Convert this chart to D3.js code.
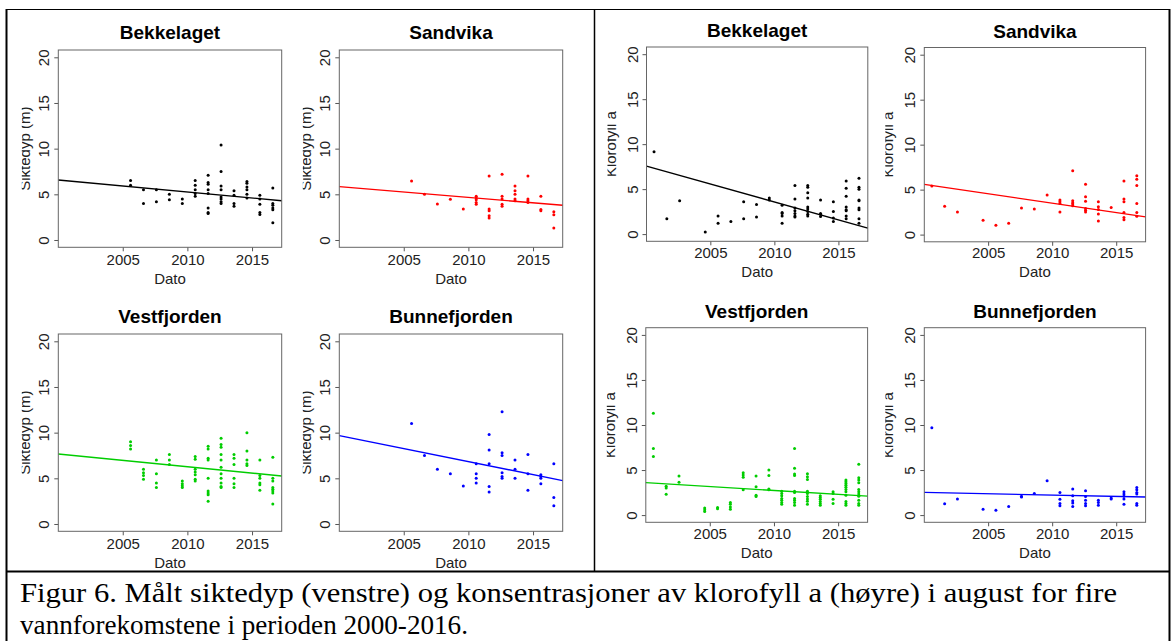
<!DOCTYPE html>
<html>
<head>
<meta charset="utf-8">
<script src="https://cdn.jsdelivr.net/npm/d3@7"></script>
<style>
  body { margin: 0; background: #fff; }
  svg { display: block; font-family: "Liberation Sans", Arial, sans-serif; }
</style>
</head>
<body>
<div id="fig"></div>
<script>
// sites + colours (R default palette 1-4)
var sites = ["Bekkelaget", "Sandvika", "Vestfjorden", "Bunnefjorden"];
var siteColors = ["#000000", "#ff0000", "#00cd00", "#0000ff"];

var yTicks = [0, 5, 10, 15, 20];
var xTickYears = [2005, 2010, 2015];

// siktedyp (m), august samples, one list per year
var siktYears = [2005, 2006, 2007, 2008, 2009, 2010, 2011, 2012, 2013, 2014, 2015, 2016];
var siktBekkelaget = [[6.5,6.0],[5.5,4.0],[5.5,4.2],[5.0,4.4],[4.5,4.0],[6.5,6.0,5.5,5.1,4.8],
  [7.1,6.3,6.1,5.5,5.1,3.5,3.0,2.9],[10.4,7.5,5.9,5.5,4.7,4.5,4.2,4.0],[5.4,4.9,4.0,3.7],
  [6.4,6.2,5.8,5.5,5.0,4.6],[4.9,4.5,3.9,3.0,2.8],[5.7,4.0,3.8,3.5,3.3,1.9]];
var siktSandvika = [[6.45],[5.0],[3.95],[4.45],[3.4],[4.8,4.6,4.4,4.1,3.9],[7.0,3.4,3.2,2.65,2.4],
  [7.2,4.8,4.5,3.9,3.7],[5.9,5.4,5.0,4.5,4.3],[7.0,4.5,4.3,4.1],[4.8,3.35,3.2],[3.1,2.75,1.3]];
var siktVestfjorden = [[9.0,8.6,8.2],[6.0,5.6,5.3,4.9],[7.0,5.5,4.5,4.0],[7.6,7.0,6.5],[4.7,4.4,4.2,4.0],
  [7.4,7.1,6.0,5.7,5.4,4.9,4.7],[8.5,8.2,7.2,7.0,5.0,3.6,3.4,3.2,2.5],
  [9.4,8.7,8.4,7.6,7.0,6.2,5.5,5.0,4.5,4.1,4.0],[7.6,7.2,6.5,5.0,4.4,4.0],[10.0,8.0,7.0,6.6,6.4],
  [7.0,5.3,5.0,4.5,4.3,3.7],[7.3,5.0,4.7,4.0,3.8,3.6,3.4,2.2]];
var siktBunnefjorden = [[11.0],[7.5],[6.0],[5.5],[4.15],[6.6,5.5,5.0,4.5],[9.8,8.1,6.6,4.1,3.5],
  [12.3,7.8,7.5,5.6,5.2,5.0],[7.0,6.0,5.0],[7.6,5.5,3.7],[5.4,5.2,5.0,4.4],[6.6,2.9,2.0]];
// trend line value at left / right end of the x range
var siktTrend = [[6.57,4.3],[5.84,3.8],[7.66,5.25],[9.68,4.75]];

// klorofyll a, august samples
var klorYears = [2000, 2001, 2002, 2004, 2005, 2006, 2007, 2008, 2009, 2010, 2011, 2012, 2013, 2014, 2015, 2016];
var klorBekkelaget = [[9.15],[1.7],[3.7],[0.22],[2.0,1.2],[1.4],[3.6,1.7],[3.3,1.9],[4.0,3.8],
  [3.2,2.4,2.3,2.0,1.2],[5.4,3.9,2.9,2.6,2.3,2.0,1.9],[5.4,5.2,4.6,4.0,3.0,2.8,2.5,2.2,2.0],
  [3.8,2.3,2.2,1.95],[3.6,2.5,1.8,1.4],[5.9,5.1,4.2,3.0,2.7,2.6,2.0,1.7],[6.2,5.2,5.0,3.8,3.7,2.9,2.7,1.7,1.2]];
var klorSandvika = [[5.4],[3.15],[2.5],[1.6],[1.05],[1.25],[2.95],[2.85],[4.4],[3.85,3.65,3.45,2.5],
  [7.1,3.75,3.55,3.4,3.2],[5.6,4.2,3.7,2.9,2.7,2.5],[3.65,3.1,2.8,2.3,1.5],[3.0],
  [5.95,3.95,3.65,2.45,1.9,1.65],[6.55,6.15,5.45,3.45,2.45,2.05]];
var klorVestfjorden = [[11.3,7.4,6.5],[3.2,3.0,2.3],[4.35,3.65],[0.8,0.6,0.4],[0.85,0.7],[1.4,1.2,0.9,0.65],
  [4.7,4.45,4.2,2.8],[4.35,3.15,2.2,2.05],[5.0,4.4,2.9,2.8],[2.65,2.4,2.15,1.85,1.65,1.4,1.2],
  [7.4,5.2,4.55,4.4,2.65,2.5,1.85,1.65,1.4,1.1],[4.6,4.25,3.95,2.65,2.4,2.05,1.8,1.55,1.2],
  [2.15,1.95,1.75,1.5,1.3,1.1],[2.6,2.4,1.75,1.3],[3.9,3.7,3.5,3.3,3.1,2.85,2.6,2.2,1.5,1.3,1.1],
  [5.65,4.15,3.9,3.6,2.85,2.6,2.35,2.1,1.65,1.3,1.1]];
var klorBunnefjorden = [[9.7],[1.25],[1.8],[0.65],[0.55],[0.95],[2.1,2.0],[2.4],[3.8],[2.5,1.75,1.3,1.05],
  [2.9,2.15,1.6,1.35,0.95],[2.7,2.05,1.65,1.3,1.05],[1.65,1.4,1.1],[1.9,1.8],[2.6,2.35,2.1,1.8,1.2],
  [3.05,2.8,2.5,2.35,1.3,1.1]];
var klorTrend = [[7.55,0.67],[5.58,1.97],[3.6,2.1],[2.52,2.0]];

var captionLines = [
  "Figur 6. Målt siktedyp (venstre) og konsentrasjoner av klorofyll a (høyre) i august for fire",
  "vannforekomstene i perioden 2000-2016."
];

var width = 1174, height = 641;

var svg = d3.select("#fig").append("svg")
    .attr("width", width)
    .attr("height", height);

svg.append("rect").attr("width", width).attr("height", height).attr("fill", "#fff");

// x range shared by all panels (R pads data range by 4%)
var xDomain = [new Date(2000, 0, 8), new Date(2017, 3, 18)];
var yDomain = [-0.8, 20.8];
var sampleDate = function(yr) { return new Date(yr, 7, 10); };

// panel boxes: left half = siktedyp, right half = klorofyll
var leftPanels = [
  {x: 58.3, y: 50, w: 223.4, h: 197.3},
  {x: 339.3, y: 50, w: 223.4, h: 197.3},
  {x: 58.3, y: 334, w: 223.4, h: 197.3},
  {x: 339.3, y: 334, w: 223.4, h: 197.3}
];
var rightPanels = [
  {x: 646.5, y: 47, w: 221.3, h: 194.3},
  {x: 924.3, y: 47.5, w: 221.3, h: 194.3},
  {x: 645.8, y: 327.7, w: 221.8, h: 194.6},
  {x: 924.3, y: 327.7, w: 221.3, h: 194.6}
];

var siktSeries = [siktBekkelaget, siktSandvika, siktVestfjorden, siktBunnefjorden];
var klorSeries = [klorBekkelaget, klorSandvika, klorVestfjorden, klorBunnefjorden];

function drawPanel(box, i, years, series, trend, ylabel, opt) {
  var g = svg.append("g");
  var x = d3.scaleTime().domain(xDomain).range([box.x, box.x + box.w]);
  var y = d3.scaleLinear().domain(yDomain).range([box.y + box.h, box.y]);
  var col = siteColors[i];

  // title
  g.append("text")
      .attr("x", box.x + box.w / 2)
      .attr("y", box.y - opt.titleOff)
      .attr("text-anchor", "middle")
      .style("font-weight", "bold")
      .style("font-size", "19px")
      .text(sites[i]);

  // x axis ticks + labels
  var xa = g.append("g")
      .attr("transform", "translate(0," + (box.y + box.h) + ")")
      .call(d3.axisBottom(x)
          .tickValues(xTickYears.map(function(d) { return new Date(d, 0, 1); }))
          .tickFormat(d3.timeFormat("%Y"))
          .tickSize(4));
  xa.select(".domain").remove();
  xa.selectAll("line").attr("stroke", "#555");
  xa.selectAll("text")
      .attr("y", opt.tickBase).attr("dy", null)
      .style("font-size", "15px").attr("fill", "#222")
      .style("font-family", "Liberation Sans, Arial, sans-serif");

  // y axis, labels rotated like R's default
  var ya = g.append("g")
      .attr("transform", "translate(" + box.x + ",0)")
      .call(d3.axisLeft(y).tickValues(yTicks).tickSize(4));
  ya.select(".domain").remove();
  ya.selectAll("line").attr("stroke", "#555");
  ya.selectAll("text")
      .attr("x", null).attr("dy", null)
      .attr("text-anchor", "middle")
      .attr("transform", "translate(-9,0) rotate(-90)")
      .attr("fill", "#222")
      .style("font-size", "15px")
      .style("font-family", "Liberation Sans, Arial, sans-serif");

  // axis titles
  g.append("text")
      .attr("x", box.x + box.w / 2)
      .attr("y", box.y + box.h + opt.datoOff)
      .attr("text-anchor", "middle")
      .attr("fill", "#222")
      .style("font-size", "15px")
      .text("Dato");

  // y label is cut at its left edge in the original figure
  var clipId = "clip" + opt.key + i;
  svg.append("clipPath").attr("id", clipId)
    .append("rect")
      .attr("x", box.x - opt.clipOff).attr("y", box.y)
      .attr("width", box.w + opt.clipOff).attr("height", box.h);

  g.append("g")
      .attr("clip-path", "url(#" + clipId + ")")
    .append("text")
      .attr("transform", "translate(" + (box.x - opt.labOff) + "," + (box.y + box.h / 2) + ") rotate(-90)")
      .attr("text-anchor", "middle")
      .attr("fill", "#222")
      .style("font-size", "15px")
      .text(ylabel);

  // points
  var pts = [];
  years.forEach(function(yr, k) {
    series[k].forEach(function(v) { pts.push({d: sampleDate(yr), v: v}); });
  });
  g.selectAll("circle.pt")
    .data(pts)
    .enter().append("circle")
      .attr("class", "pt")
      .attr("cx", function(d) { return x(d.d); })
      .attr("cy", function(d) { return y(d.v); })
      .attr("r", 1.5)
      .attr("fill", col);

  // trend line
  g.append("line")
      .attr("x1", x(xDomain[0])).attr("y1", y(trend[0]))
      .attr("x2", x(xDomain[1])).attr("y2", y(trend[1]))
      .attr("stroke", col)
      .attr("stroke-width", 1.4);

  // box
  g.append("rect")
      .attr("x", box.x).attr("y", box.y)
      .attr("width", box.w).attr("height", box.h)
      .attr("fill", "none")
      .attr("stroke", "#666")
      .attr("stroke-width", 1);
}

leftPanels.forEach(function(b, i) {
  drawPanel(b, i, siktYears, siktSeries[i], siktTrend[i], "Siktedyp (m)",
    {key: "s", titleOff: 11, tickBase: 17.5, datoOff: 37, labOff: 28, clipOff: 36.5});
});
rightPanels.forEach(function(b, i) {
  drawPanel(b, i, klorYears, klorSeries[i], klorTrend[i], "Klorofyll a",
    {key: "k", titleOff: 10, tickBase: 16.5, datoOff: 35.5, labOff: 31, clipOff: 39});
});

// table frame around the figure
var frame = svg.append("g").attr("stroke", "#000").attr("fill", "none");
frame.append("line").attr("x1", 6).attr("y1", 9.5).attr("x2", 1170).attr("y2", 9.5).attr("stroke-width", 1);
frame.append("line").attr("x1", 6.5).attr("y1", 9).attr("x2", 6.5).attr("y2", 641).attr("stroke-width", 2);
frame.append("line").attr("x1", 1169.5).attr("y1", 9).attr("x2", 1169.5).attr("y2", 641).attr("stroke-width", 2);
frame.append("line").attr("x1", 594.5).attr("y1", 9).attr("x2", 594.5).attr("y2", 571).attr("stroke-width", 1.5);
frame.append("line").attr("x1", 6).attr("y1", 571.5).attr("x2", 1170).attr("y2", 571.5).attr("stroke-width", 2);

// caption
svg.selectAll("text.caption")
  .data(captionLines)
  .enter().append("text")
    .attr("class", "caption")
    .attr("x", 20)
    .attr("y", function(d, i) { return 602 + i * 32; })
    .attr("textLength", function(d, i) { return i === 0 ? 1097 : 448; })
    .attr("lengthAdjust", "spacingAndGlyphs")
    .style("font-family", "Liberation Serif, 'DejaVu Serif', serif")
    .style("font-size", "28px")
    .attr("fill", "#000")
    .text(function(d) { return d; });
</script>
</body>
</html>
